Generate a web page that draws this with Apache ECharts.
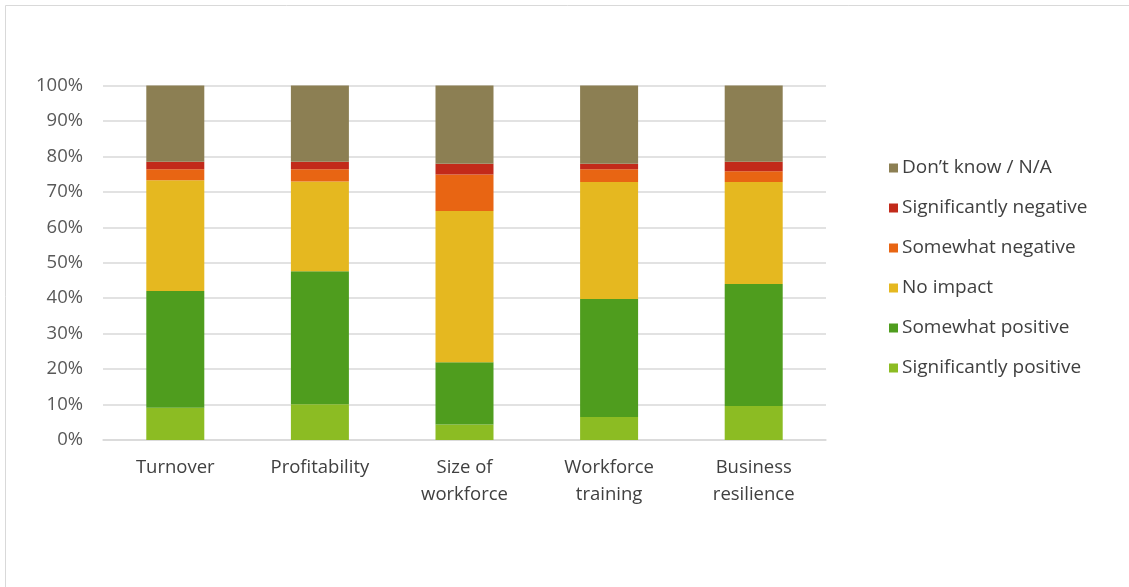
<!DOCTYPE html>
<html>
<head>
<meta charset="utf-8">
<script src="https://cdn.jsdelivr.net/npm/echarts@6/dist/echarts.min.js"></script>
<style>
html,body{margin:0;padding:0;background:#fff;}
#chart{width:1129px;height:587px;}
</style>
</head>
<body>
<div id="chart"></div>
<script>
const categories = ['Turnover', 'Profitability', 'Size of\nworkforce', 'Workforce\ntraining', 'Business\nresilience'];
const yTicks = [0, 10, 20, 30, 40, 50, 60, 70, 80, 90, 100];
const significantlyPositive = [9.1, 10.1, 4.4, 6.5, 9.6];
const somewhatPositive = [32.9, 37.5, 17.5, 33.3, 34.4];
const noImpact = [31.3, 25.3, 42.7, 33.0, 28.8];
const somewhatNegative = [3.1, 3.5, 10.3, 3.6, 3.0];
const significantlyNegative = [2.1, 2.1, 3.0, 1.5, 2.7];
const dontKnow = [21.5, 21.5, 22.1, 22.1, 21.5];

const seriesDefs = [
  { name: 'Significantly positive', data: significantlyPositive, color: '#8CBC23' },
  { name: 'Somewhat positive', data: somewhatPositive, color: '#4F9D1E' },
  { name: 'No impact', data: noImpact, color: '#E5B820' },
  { name: 'Somewhat negative', data: somewhatNegative, color: '#E86513' },
  { name: 'Significantly negative', data: significantlyNegative, color: '#C22A1A' },
  { name: 'Don\u2019t know / N/A', data: dontKnow, color: '#8C7F53' }
];

const chart = echarts.init(document.getElementById('chart'));
chart.setOption({
  animation: false,
  backgroundColor: '#fff',
  graphic: [{
    type: 'rect',
    shape: { x: 5.5, y: 5.5, width: 1140, height: 600 },
    style: { fill: 'none', stroke: '#d9d9d9', lineWidth: 1 },
    silent: true
  }],
  grid: { left: 103, right: 303, top: 85.5, bottom: 147, containLabel: false },
  legend: {
    orient: 'vertical',
    left: 884,
    top: 151,
    itemWidth: 9,
    itemHeight: 9,
    itemGap: 16,
    icon: 'rect',
    data: seriesDefs.map(s => s.name).reverse(),
    textStyle: { fontFamily: 'Open Sans', fontSize: 19, color: '#404040', lineHeight: 24, padding: [0, 0, 0, -1] }
  },
  xAxis: {
    type: 'category',
    data: categories,
    axisLine: { lineStyle: { color: '#d9d9d9', width: 1.5 } },
    axisTick: { show: false },
    axisLabel: { fontFamily: 'Open Sans', fontSize: 18.5, color: '#404040', lineHeight: 27, margin: 14, interval: 0 }
  },
  yAxis: {
    type: 'value',
    min: 0,
    max: 100,
    interval: 10,
    axisLine: { show: false },
    axisTick: { show: false },
    splitLine: { lineStyle: { color: '#d9d9d9', width: 1.5 } },
    axisLabel: {
      fontFamily: 'Open Sans', fontSize: 18.5, color: '#595959', margin: 20,
      formatter: v => (yTicks.indexOf(v) >= 0 ? v + '%' : '')
    }
  },
  series: seriesDefs.map(s => ({
    name: s.name,
    type: 'bar',
    stack: 'total',
    barWidth: 58,
    data: s.data,
    itemStyle: { color: s.color }
  }))
});
</script>
</body>
</html>
